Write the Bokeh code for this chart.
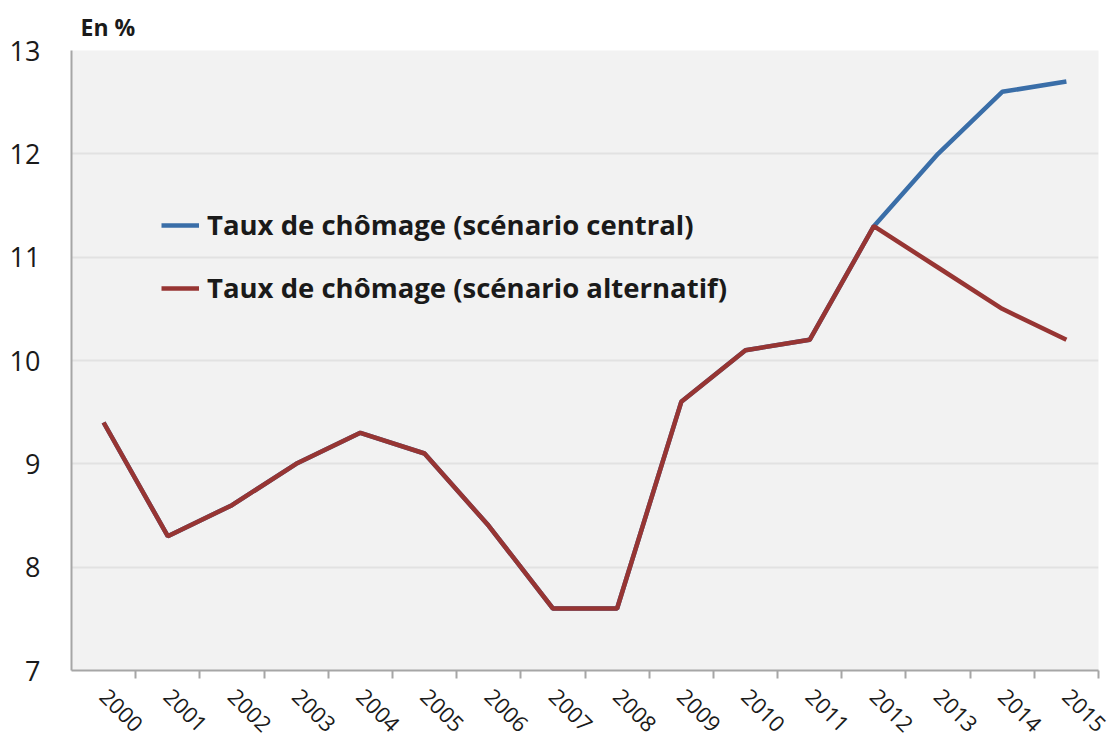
import math
from bokeh.plotting import figure
from bokeh.models import FixedTicker, Legend, LegendItem, Range1d, Title
from bokeh.embed import file_html
from bokeh.resources import INLINE

years = ["2000", "2001", "2002", "2003", "2004", "2005", "2006", "2007",
         "2008", "2009", "2010", "2011", "2012", "2013", "2014", "2015"]
central = [9.4, 8.3, 8.6, 9.0, 9.3, 9.1, 8.4, 7.6, 7.6, 9.6, 10.1, 10.2, 11.3, 12.0, 12.6, 12.7]
alternatif = [9.4, 8.3, 8.6, 9.0, 9.3, 9.1, 8.4, 7.6, 7.6, 9.6, 10.1, 10.2, 11.3, 10.9, 10.5, 10.2]
y_ticks = [7, 8, 9, 10, 11, 12, 13]
label_central = "Taux de chômage (scénario central)"
label_alt = "Taux de chômage (scénario alternatif)"
unit_label = "En %"

FONT = "Open Sans"
x = [i + 0.5 for i in range(len(years))]

p = figure(width=1112, height=743, output_backend="svg", toolbar_location=None,
           x_range=Range1d(0, len(years)), y_range=Range1d(7, 13),
           min_border_left=71, min_border_right=14, min_border_top=50, min_border_bottom=73)
p.outline_line_color = None
p.background_fill_color = "#f2f2f2"
p.border_fill_color = "white"

p.add_layout(Title(text=unit_label, align="left", offset=9, standoff=15,
                   text_font=FONT, text_font_size="23px", text_font_style="bold",
                   text_color="#1a1a1a"), "above")

# lines
r_c = p.line(x, central, line_color="#3a6ea8", line_width=4.5)
r_a = p.line(x, alternatif, line_color="#973533", line_width=4.5)

# x axis
p.xaxis.ticker = FixedTicker(ticks=x, minor_ticks=list(range(1, len(years) + 1)))
p.xaxis.major_label_overrides = {xi: y for xi, y in zip(x, years)}
p.xaxis.major_tick_line_color = None
p.xaxis.minor_tick_line_color = "#a6a6a6"
p.xaxis.minor_tick_line_width = 2
p.xaxis.minor_tick_in = 0
p.xaxis.minor_tick_out = 8
p.xaxis.axis_line_color = "#a6a6a6"
p.xaxis.axis_line_width = 2
p.xaxis.major_label_orientation = -math.pi / 4
p.xaxis.major_label_standoff = 14
p.xaxis.major_label_text_font = FONT
p.xaxis.major_label_text_font_size = "22px"
p.xaxis.major_label_text_color = "#1a1a1a"

# y axis
p.yaxis.ticker = FixedTicker(ticks=y_ticks)
p.yaxis.major_tick_line_color = None
p.yaxis.minor_tick_line_color = None
p.yaxis.axis_line_color = "#a6a6a6"
p.yaxis.axis_line_width = 2
p.yaxis.major_label_standoff = 25
p.yaxis.major_label_text_font = FONT
p.yaxis.major_label_text_font_size = "27px"
p.yaxis.major_label_text_color = "#1a1a1a"

p.xgrid.grid_line_color = None
p.ygrid.ticker = FixedTicker(ticks=y_ticks)
p.ygrid.grid_line_color = "#e2e2e2"
p.ygrid.grid_line_width = 2

legend = Legend(items=[LegendItem(label=label_central, renderers=[r_c]),
                       LegendItem(label=label_alt, renderers=[r_a])],
                location=(90, 364), orientation="vertical")
legend.background_fill_alpha = 0
legend.border_line_color = None
legend.padding = 0
legend.margin = 0
legend.glyph_width = 38
legend.glyph_height = 32
legend.label_height = 32
legend.spacing = 26
legend.label_standoff = 8
legend.label_text_font = FONT
legend.label_text_font_size = "27.5px"
legend.label_text_font_style = "bold"
legend.label_text_color = "#1a1a1a"
p.add_layout(legend)

open("out.html", "w").write(file_html(p, INLINE))
